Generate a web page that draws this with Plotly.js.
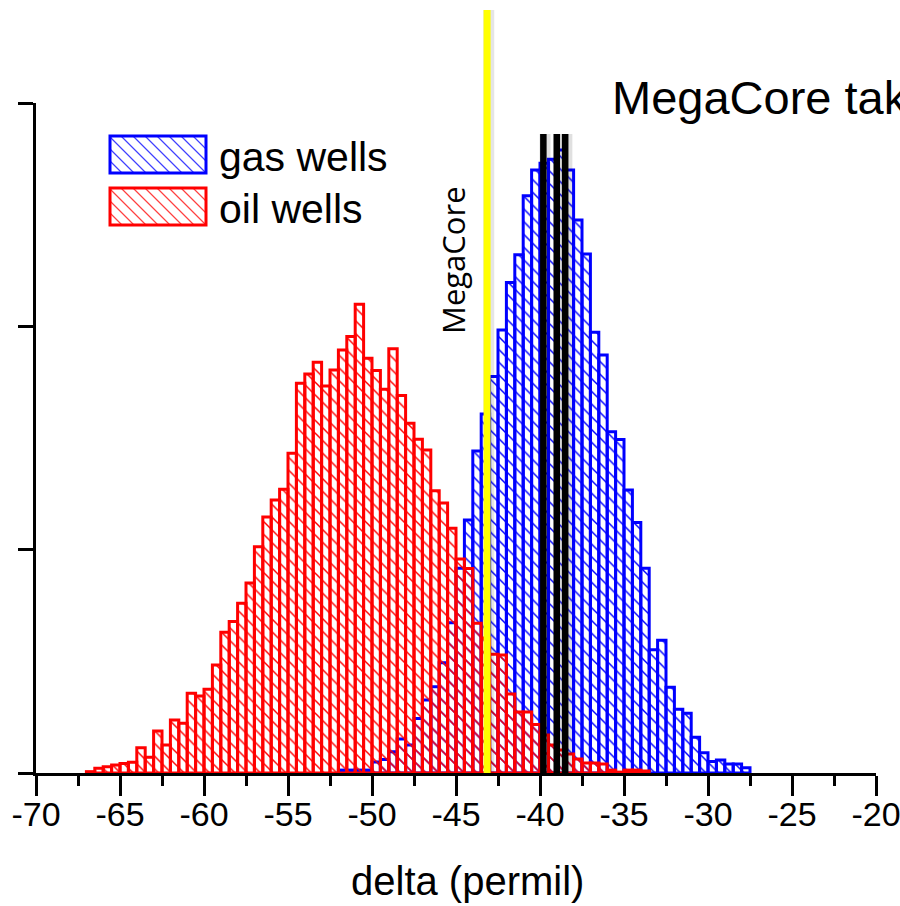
<!DOCTYPE html>
<html>
<head>
<meta charset="utf-8">
<script src="https://cdn.plot.ly/plotly-3.0.1.min.js"></script>
<style>
  html, body { margin: 0; padding: 0; background: #ffffff; }
  #chart { width: 900px; height: 906px; }
</style>
</head>
<body>
<div id="chart"></div>
<script>
// Histogram of carbon isotope delta values (permil), 0.5 permil bins.
const binWidth = 0.5;

// gas wells: first bin starts at -52
const gasFirstBin = -52;
const gasCounts = [
  13, 13, 13, 13, 49, 61, 95, 152, 125, 244,
  327, 386, 494, 673, 917, 1133, 1442, 1608, 1775, 1984,
  2196, 2320, 2585, 2700, 2730, 2748, 2790, 2700, 2476, 2324,
  1973, 1872, 1528, 1493, 1267, 1122, 917, 552, 594, 384,
  285, 267, 160, 91, 51, 58, 40, 40, 24
];

// oil wells: first bin starts at -67
const oilFirstBin = -67;
const oilCounts = [
  6, 21, 28, 36, 43, 48, 113, 70, 188, 125,
  237, 223, 357, 345, 375, 484, 630, 678, 760, 851,
  1013, 1146, 1222, 1270, 1432, 1745, 1787, 1839, 1733, 1805,
  1894, 1954, 2099, 1857, 1802, 1718, 1900, 1690, 1566, 1494,
  1446, 1264, 1209, 1096, 958, 916, 670, 605, 532, 528,
  354, 273, 273, 217, 170, 125, 103, 85, 63, 45,
  45, 40, 13, 4, 13, 13, 9
];

// reference markers
const megaCoreValue = [-43.15];
const sampleValues = [-39.8, -39.0, -38.5];

const seriesNames = ['gas wells', 'oil wells'];
const seriesColors = ['rgb(0,0,255)', 'rgb(255,0,0)'];
const hatchColors = ['rgba(0,0,255,0.75)', 'rgba(255,0,0,0.75)'];

const xTickVals = [-70, -65, -60, -55, -50, -45, -40, -35, -30, -25, -20];
const xTickText = ['-70', '-65', '-60', '-55', '-50', '-45', '-40', '-35', '-30', '-25', '-20'];
const xMinorVals = [-67.5, -62.5, -57.5, -52.5, -47.5, -42.5, -37.5, -32.5, -27.5, -22.5];
const yTickVals = [0, 1000, 2000, 3000];

// plot frame in page pixels
const L = 36, R = 876, T = 103, B = 773;
const W = R - L, H = B - T;
const px = x => (x - L) / W;
const py = y => (B - y) / H;

function binCenters(first, counts) {
  return counts.map((_, i) => first + binWidth * (i + 0.5));
}

function histTrace(first, counts, k) {
  return {
    type: 'bar',
    x: binCenters(first, counts),
    y: counts,
    width: binWidth,
    name: seriesNames[k],
    showlegend: false,
    hoverinfo: 'x+y',
    marker: {
      color: seriesColors[k],
      line: { color: seriesColors[k], width: 3 },
      pattern: { shape: '\\', size: 9, solidity: 0.16, fgcolor: seriesColors[k] }
    }
  };
}

const traces = [
  histTrace(gasFirstBin, gasCounts, 0),
  histTrace(oilFirstBin, oilCounts, 1)
];

// hand-drawn legend: hatched swatches + labels
const shapes = [];
const annotations = [];
const swatch = { x0: 110, x1: 206, h: 37, tops: [136, 188], step: 12 };

seriesNames.forEach((name, k) => {
  const top = swatch.tops[k], bot = top + swatch.h;
  const w = swatch.x1 - swatch.x0, h = swatch.h;
  let d = '';
  for (let c = -h; c < w; c += swatch.step) {
    const t0 = Math.max(0, -c / h), t1 = Math.min(1, (w - c) / h);
    if (t1 <= t0) continue;
    const xa = px(swatch.x0 + c + t0 * h).toFixed(5), ya = py(top + t0 * h).toFixed(5);
    const xb = px(swatch.x0 + c + t1 * h).toFixed(5), yb = py(top + t1 * h).toFixed(5);
    d += 'M' + xa + ',' + ya + 'L' + xb + ',' + yb;
  }
  shapes.push({
    type: 'path', xref: 'paper', yref: 'paper', path: d,
    fillcolor: 'rgba(0,0,0,0)', opacity: 1,
    line: { color: hatchColors[k], width: 1.2, dash: 'solid' }, layer: 'above'
  });
  shapes.push({
    type: 'rect', xref: 'paper', yref: 'paper',
    x0: px(swatch.x0), x1: px(swatch.x1), y0: py(top), y1: py(bot),
    line: { color: seriesColors[k], width: 3 }, fillcolor: 'rgba(0,0,0,0)', layer: 'above'
  });
  annotations.push({
    xref: 'paper', yref: 'paper', x: px(217), y: py((top + bot) / 2 + 2),
    xanchor: 'left', yanchor: 'middle', showarrow: false,
    text: name, font: { family: 'Liberation Sans, Arial, sans-serif', size: 41, color: '#000' }
  });
});

// MegaCore line (yellow) and sample lines (black), with a faint shadow
megaCoreValue.forEach(v => {
  shapes.push({ type: 'line', xref: 'x', yref: 'paper', x0: v + 0.1, x1: v + 0.1, y0: 0, y1: py(10),
    line: { color: 'rgba(0,0,0,0.10)', width: 11 }, layer: 'above' });
  shapes.push({ type: 'line', xref: 'x', yref: 'paper', x0: v, x1: v, y0: 0, y1: py(10),
    line: { color: '#ffff00', width: 7 }, layer: 'above' });
});
sampleValues.forEach(v => {
  shapes.push({ type: 'line', xref: 'x', yref: 'paper', x0: v + 0.1, x1: v + 0.1, y0: 0, y1: py(134),
    line: { color: 'rgba(0,0,0,0.12)', width: 11 }, layer: 'above' });
  shapes.push({ type: 'line', xref: 'x', yref: 'paper', x0: v, x1: v, y0: 0, y1: py(134),
    line: { color: '#000000', width: 6.5 }, layer: 'above' });
});

annotations.push({
  xref: 'paper', yref: 'paper', x: px(453), y: py(260), textangle: -90,
  xanchor: 'center', yanchor: 'middle', showarrow: false,
  text: 'MegaCore', font: { family: 'Open Sans, sans-serif', size: 31, color: '#000' }
});
annotations.push({
  xref: 'paper', yref: 'paper', x: px(610), y: py(97),
  xanchor: 'left', yanchor: 'middle', showarrow: false,
  text: 'MegaCore tak', font: { family: 'Liberation Sans, Arial, sans-serif', size: 47, color: '#000' }
});
annotations.push({
  xref: 'paper', yref: 'paper', x: px(468), y: py(881),
  xanchor: 'center', yanchor: 'middle', showarrow: false,
  text: 'delta (permil)', font: { family: 'Liberation Sans, Arial, sans-serif', size: 40, color: '#000' }
});

const layout = {
  width: 900, height: 906,
  margin: { l: L, r: 900 - R, t: T, b: 906 - B, pad: 0 },
  paper_bgcolor: '#ffffff', plot_bgcolor: '#ffffff',
  barmode: 'overlay', bargap: 0,
  showlegend: false,
  xaxis: {
    range: [-70, -20], tickmode: 'array', tickvals: xTickVals, ticktext: xTickText,
    showgrid: false, zeroline: false, showline: true, linecolor: '#000', linewidth: 3,
    ticks: 'outside', ticklen: 20, tickwidth: 3, tickcolor: '#000',
    ticklabeloverflow: 'allow', ticklabelstandoff: -11,
    tickfont: { family: 'Liberation Sans, Arial, sans-serif', size: 34, color: '#000' },
    minor: { tickmode: 'array', tickvals: xMinorVals, ticks: 'outside', ticklen: 10, tickwidth: 3, tickcolor: '#000', showgrid: false }
  },
  yaxis: {
    range: [0, 3000], tickmode: 'array', tickvals: yTickVals, showticklabels: false,
    showgrid: false, zeroline: false, showline: true, linecolor: '#000', linewidth: 3,
    ticks: 'outside', ticklen: 15, tickwidth: 3, tickcolor: '#000'
  },
  shapes: shapes,
  annotations: annotations
};

Plotly.newPlot('chart', traces, layout, { staticPlot: true, displayModeBar: false });
</script>
</body>
</html>
